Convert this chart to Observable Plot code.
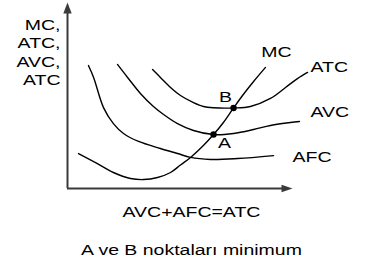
<!DOCTYPE html>
<html><head><meta charset="utf-8">
<script src="https://cdn.jsdelivr.net/npm/d3@7"></script>
<script src="https://cdn.jsdelivr.net/npm/@observablehq/plot@0.6"></script>
<style>body{margin:0;background:#fff;}</style>
</head><body><div id="chart"></div>
<script>
// Curve values (quantity 0–100, cost 0–100)
const mcQ = [4.9,13.3,20.4,28.0,33.8,40.0,45.8,50.2,54.7,60.4,64.9,69.3,73.8,77.8,82.7,88.0];
const mcCost = [18.8,13.4,8.6,5.4,4.8,5.9,8.6,12.6,16.7,23.1,29.0,35.5,43.3,50.0,57.5,65.1];
const atcQ = [37.8,41.3,45.8,50.2,56.0,60.4,64.9,73.8,81.3,90.2,96.9,102.2,106.7];
const atcCost = [64.0,59.7,54.3,50.0,46.2,44.1,43.4,43.3,44.1,48.4,54.3,59.1,62.4];
const avcQ = [22.2,26.7,32.4,38.2,42.7,48.9,56.0,64.9,73.8,82.7,90.2,99.1,103.1];
const avcCost = [66.7,59.7,51.1,44.1,39.8,34.9,31.2,29.0,29.6,31.7,33.9,35.5,36.0];
const afcQ = [9.3,11.6,16.0,20.4,24.9,31.6,41.3,48.9,54.7,63.6,75.6,91.6];
const afcCost = [66.1,59.7,43.5,34.9,29.6,25.3,21.5,18.8,16.7,15.6,16.1,17.7];
const pointNames = ["A","B"];
const pointQ = [64.9,73.8];
const pointCost = [29.0,43.3];
const curveNames = ["MC","ATC","AVC","AFC"];
const yTitle = "MC,\nATC,\nAVC,\nATC";
const xTitle = "AVC+AFC=ATC";
const note = "A ve B noktaları minimum";

const toRows = (qs, cs) => qs.map((q, i) => ({q, c: cs[i]}));
const curves = [toRows(mcQ, mcCost), toRows(atcQ, atcCost), toRows(avcQ, avcCost), toRows(afcQ, afcCost)];
const points = pointNames.map((n, i) => ({n, q: pointQ[i], c: pointCost[i]}));

// label placement (data coordinates)
const curveLabelPos = [
  {q: 92.9, c: 73.1, anchor: "middle"},
  {q: 108.0, c: 65.1, anchor: "start"},
  {q: 108.0, c: 40.9, anchor: "start"},
  {q: 100.0, c: 16.7, anchor: "start"}
];
const curveLabels = curveNames.map((t, i) => ({t, ...curveLabelPos[i]}));
const pointLabelPos = [{q: 69.8, c: 24.2}, {q: 70.2, c: 48.9}];
const pointLabels = pointNames.map((t, i) => ({t, ...pointLabelPos[i]}));

const rightTri = {draw(ctx) { ctx.moveTo(0,0); ctx.lineTo(-11,-3.8); ctx.lineTo(-11,3.8); ctx.closePath(); }};
const upTri = {draw(ctx) { ctx.moveTo(0,0); ctx.lineTo(-4.2,11); ctx.lineTo(4.2,11); ctx.closePath(); }};

const font = "Liberation Sans, Arial, Helvetica, sans-serif";
const axisColor = "#3a3a3a";

const chart = Plot.plot({
  width: 368, height: 266,
  marginLeft: 67, marginRight: 76, marginTop: 2, marginBottom: 78,
  x: {domain: [0, 100], axis: null},
  y: {domain: [0, 100], axis: null},
  style: {fontFamily: font, background: "#fff"},
  marks: [
    Plot.ruleX([0], {y1: 0, y2: 96, stroke: axisColor, strokeWidth: 2}),
    Plot.ruleY([0], {x1: 0, x2: 97, stroke: axisColor, strokeWidth: 2}),
    Plot.dot([{q: 100, c: 0}], {x: "q", y: "c", symbol: rightTri, fill: axisColor, stroke: "none"}),
    Plot.dot([{q: 0, c: 100}], {x: "q", y: "c", symbol: upTri, fill: axisColor, stroke: "none"}),
    ...curves.map(rows => Plot.line(rows, {x: "q", y: "c", curve: "catmull-rom", stroke: "#000", strokeWidth: 1.4})),
    Plot.dot(points, {x: "q", y: "c", r: 3.2, fill: "#000", stroke: "none"}),
    Plot.text(curveLabels.filter(d => d.anchor === "middle"), {x: "q", y: "c", text: "t", textAnchor: "middle", fontSize: 15, fill: "#000"}),
    Plot.text(curveLabels.filter(d => d.anchor === "start"), {x: "q", y: "c", text: "t", textAnchor: "start", fontSize: 15, fill: "#000"}),
    Plot.text(pointLabels, {x: "q", y: "c", text: "t", fontSize: 15, fill: "#000"}),
    Plot.text([yTitle], {x: -3.1, y: 73.7, text: d => d, textAnchor: "end", lineAnchor: "middle", lineHeight: 1.23, fontSize: 15, fill: "#000"}),
    Plot.text([xTitle], {x: 55.1, y: -12.9, text: d => d, fontSize: 15, fill: "#000"}),
    Plot.text([note], {x: 55.1, y: -33.3, text: d => d, fontSize: 15, fill: "#000"})
  ]
});

chart.querySelectorAll("text").forEach(t => {
  const tr = t.getAttribute("transform");
  if (tr) t.setAttribute("transform", tr + " scale(1.3,1)");
  else {
    const x = +(t.getAttribute("x") || 0), y = +(t.getAttribute("y") || 0);
    t.removeAttribute("x"); t.removeAttribute("y");
    t.setAttribute("transform", `translate(${x},${y}) scale(1.3,1)`);
  }
});
document.getElementById("chart").appendChild(chart);
</script>
</body></html>
